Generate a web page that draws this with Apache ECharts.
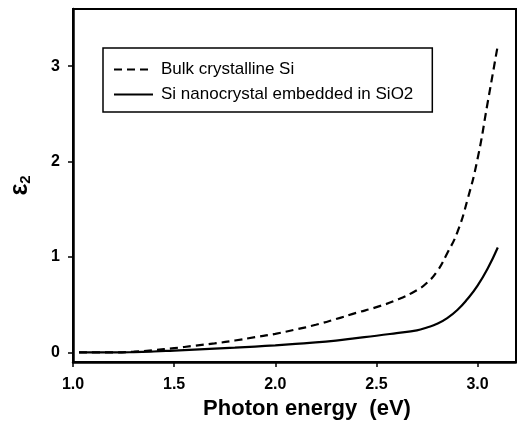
<!DOCTYPE html>
<html>
<head>
<meta charset="utf-8">
<script src="https://cdn.jsdelivr.net/npm/echarts@6/dist/echarts.min.js"></script>
<style>
html,body{margin:0;padding:0;background:#fff;}
#c{width:517px;height:425px;}
</style>
</head>
<body>
<div id="c"></div>
<script>
const xTicks = [1.0, 1.5, 2.0, 2.5, 3.0];
const yTicks = [0, 1, 2, 3];
const bulkX = [1.03, 1.2, 1.3, 1.4, 1.5, 1.6, 1.7, 1.8, 1.9, 2.0, 2.1, 2.2, 2.3, 2.4, 2.5, 2.6, 2.7, 2.75, 2.8, 2.85, 2.9, 2.95, 3.0, 3.05, 3.1];
const bulkY = [0, 0, 0.008, 0.025, 0.045, 0.07, 0.095, 0.125, 0.16, 0.195, 0.24, 0.29, 0.35, 0.415, 0.475, 0.55, 0.653, 0.73, 0.85, 1.04, 1.26, 1.6, 2.03, 2.62, 3.22];
const nanoX = [1.03, 1.2, 1.3, 1.4, 1.5, 1.6, 1.7, 1.8, 1.9, 2.0, 2.1, 2.2, 2.3, 2.4, 2.5, 2.6, 2.7, 2.75, 2.8, 2.85, 2.9, 2.95, 3.0, 3.05, 3.1];
const nanoY = [0, 0, 0.003, 0.01, 0.02, 0.03, 0.04, 0.05, 0.062, 0.075, 0.09, 0.105, 0.125, 0.15, 0.175, 0.203, 0.232, 0.262, 0.3, 0.36, 0.445, 0.56, 0.7, 0.88, 1.1];
const seriesNames = ['Bulk crystalline Si', 'Si nanocrystal embedded in SiO2'];

const FONT = 'Liberation Sans, Arial, Helvetica, sans-serif';
const zip = (xs, ys) => xs.map((x, i) => [x, ys[i]]);

const chart = echarts.init(document.getElementById('c'), null, {renderer: 'canvas'});
chart.setOption({
  animation: false,
  backgroundColor: '#fff',
  grid: {left: 72, top: 9, right: 1, bottom: 63, show: true, borderColor: '#000', borderWidth: 2, containLabel: false},
  legend: {
    left: 103, top: 48, orient: 'vertical',
    borderColor: '#000', borderWidth: 1.5,
    padding: [13, 19, 9, 10],
    itemWidth: 39, itemHeight: 14, itemGap: 8,
    itemStyle: {opacity: 0},
    textStyle: {fontFamily: FONT, fontSize: 17, color: '#000', padding: [0, 0, 0, 3]},
    data: seriesNames
  },
  xAxis: {
    type: 'value', min: 1.0, max: 3.19,
    name: 'Photon energy  (eV)', nameLocation: 'middle', nameGap: 30,
    nameTextStyle: {fontFamily: FONT, fontSize: 22, fontWeight: 'bold', color: '#000', padding: [0, 0, 0, 25]},
    axisLine: {show: true, onZero: false, lineStyle: {color: '#000', width: 2.5}},
    axisTick: {show: true, inside: false, length: 5, lineStyle: {color: '#000', width: 1.5}, customValues: xTicks},
    axisLabel: {fontFamily: FONT, fontSize: 16, fontWeight: 'bold', color: '#000', margin: 15, customValues: xTicks,
      formatter: v => v.toFixed(1)},
    splitLine: {show: false}
  },
  yAxis: {
    type: 'value', min: -0.1, max: 3.6,
    name: '{e|ε}{s|2}', nameLocation: 'middle', nameGap: 40, nameRotate: 90,
    nameTextStyle: {
      rich: {
        e: {fontFamily: FONT, fontSize: 25, fontWeight: 'bold', color: '#000'},
        s: {fontFamily: FONT, fontSize: 15, fontWeight: 'bold', color: '#000', verticalAlign: 'bottom', padding: [8, 0, 0, 0]}
      }
    },
    axisLine: {show: true, onZero: false, lineStyle: {color: '#000', width: 2.5}},
    axisTick: {show: true, inside: false, length: 5, lineStyle: {color: '#000', width: 1.5}, customValues: yTicks},
    axisLabel: {fontFamily: FONT, fontSize: 16, fontWeight: 'bold', color: '#000', margin: 13, customValues: yTicks},
    splitLine: {show: false}
  },
  series: [
    {
      name: seriesNames[0], type: 'line', data: zip(bulkX, bulkY),
      symbol: 'none', smooth: 0.5,
      lineStyle: {color: '#000', width: 2.2, type: [8, 5]},
      itemStyle: {color: '#000'}
    },
    {
      name: seriesNames[1], type: 'line', data: zip(nanoX, nanoY),
      symbol: 'none', smooth: 0.5,
      lineStyle: {color: '#000', width: 2.2, type: 'solid'},
      itemStyle: {color: '#000'}
    }
  ]
});
</script>
</body>
</html>
